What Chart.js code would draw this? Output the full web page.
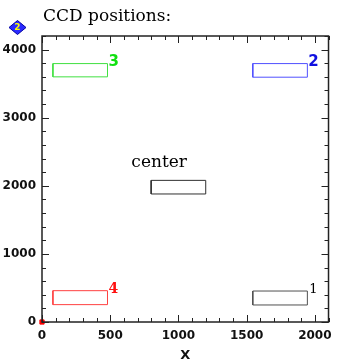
<!DOCTYPE html>
<html><head><meta charset="utf-8">
<script src="https://cdn.jsdelivr.net/npm/chart.js@4"></script>
<style>html,body{margin:0;padding:0;background:#fff;overflow:hidden}</style>
</head><body>
<canvas id="c" width="339" height="363"></canvas>
<script>
// ---- data ----
const ccdNames = ['1', '2', '3', '4', 'center'];
const ccdX1 = [1545, 1545, 80, 80, 800];
const ccdX2 = [1945, 1945, 480, 480, 1200];
const ccdY1 = [250, 3595, 3600, 255, 1880];
const ccdY2 = [455, 3795, 3795, 460, 2080];
const centerLabel = 'center';
const centerLabelX = 655;
const centerLabelY = 2283;
const originX = [0];
const originY = [0];
const xTickValues = [0, 500, 1000, 1500, 2000];
const yTickValues = [0, 1000, 2000, 3000, 4000];
const xMinorStep = 100;
const yMinorStep = 200;
const titleText = 'CCD positions:';
const xAxisTitle = 'X';

// ---- styles ----
const ccdColors = ['#505050', '#5050ff', '#40e040', '#ff4040', '#303030'];
const labelColors = ['#000000', '#1010e0', '#10e010', '#ff1010', '#000000'];
const labelFonts = ['13px "DejaVu Serif"', 'bold 15px "DejaVu Sans"', 'bold 15px "DejaVu Sans"', 'bold 14px "DejaVu Serif"', ''];
const labelDx = [2, 1, 1, 1, 0];

const datasets = ccdNames.map((n, i) => ({
  label: n,
  data: [
    {x: ccdX1[i], y: ccdY1[i]}, {x: ccdX2[i], y: ccdY1[i]},
    {x: ccdX2[i], y: ccdY2[i]}, {x: ccdX1[i], y: ccdY2[i]},
    {x: ccdX1[i], y: ccdY1[i]}
  ],
  showLine: true, borderColor: ccdColors[i], borderWidth: 1,
  pointRadius: 0, tension: 0, fill: false
}));
datasets.push({
  label: 'origin',
  data: originX.map((x, i) => ({x, y: originY[i]})),
  pointStyle: 'rect', pointRadius: 3, backgroundColor: '#ff0000',
  borderColor: '#ff0000', showLine: false, clip: false
});

const deco = {
  id: 'deco',
  afterDraw(chart) {
    const ctx = chart.ctx, a = chart.chartArea;
    const xs = chart.scales.x, ys = chart.scales.y;
    ctx.save();
    // frame
    ctx.strokeStyle = '#222'; ctx.lineWidth = 1.5;
    ctx.strokeRect(a.left, a.top, a.right - a.left, a.bottom - a.top);
    // inward ticks
    ctx.lineWidth = 1;
    ctx.beginPath();
    for (let v = 0; v <= xs.max; v += xMinorStep) {
      const p = Math.round(xs.getPixelForValue(v)) + 0.5;
      const len = (v % 500 === 0) ? 7 : 4;
      ctx.moveTo(p, a.bottom); ctx.lineTo(p, a.bottom - len);
      ctx.moveTo(p, a.top); ctx.lineTo(p, a.top + len);
    }
    for (let v = 0; v <= ys.max; v += yMinorStep) {
      const p = Math.round(ys.getPixelForValue(v)) + 0.5;
      const len = (v % 1000 === 0) ? 7 : 4;
      ctx.moveTo(a.left, p); ctx.lineTo(a.left + len, p);
      ctx.moveTo(a.right, p); ctx.lineTo(a.right - len, p);
    }
    ctx.stroke();
    // ccd labels
    ctx.textBaseline = 'alphabetic';
    ccdNames.forEach((n, i) => {
      if (!labelFonts[i]) return;
      ctx.font = labelFonts[i];
      ctx.fillStyle = labelColors[i];
      ctx.textAlign = 'left';
      ctx.fillText(n, xs.getPixelForValue(ccdX2[i]) + labelDx[i], ys.getPixelForValue(ccdY2[i]) + 2);
    });
    ctx.font = '17px "DejaVu Serif"';
    ctx.fillStyle = '#000';
    ctx.fillText(centerLabel, xs.getPixelForValue(centerLabelX), ys.getPixelForValue(centerLabelY));
    // title
    ctx.font = '17px "DejaVu Serif"';
    ctx.fillText(titleText, 43, 21);
    // icon
    ctx.beginPath();
    ctx.moveTo(17.5, 20.5); ctx.lineTo(26, 27.5); ctx.lineTo(17.5, 34.5); ctx.lineTo(9, 27.5); ctx.closePath();
    ctx.fillStyle = '#2a2aff'; ctx.fill();
    ctx.strokeStyle = '#0000a0'; ctx.lineWidth = 1; ctx.stroke();
    ctx.font = 'bold 9px "DejaVu Sans"'; ctx.fillStyle = '#ffff00';
    ctx.textAlign = 'center'; ctx.textBaseline = 'middle';
    ctx.fillText('2', 17.5, 28);
    ctx.restore();
  }
};

const tickFont = {family: 'DejaVu Sans', weight: 'bold', size: 12};

new Chart(document.getElementById('c'), {
  type: 'scatter',
  data: {datasets},
  options: {
    responsive: false, animation: false, devicePixelRatio: 1,
    layout: {padding: {top: 36, right: 9, left: 0, bottom: 0}},
    plugins: {legend: {display: false}, tooltip: {enabled: false}},
    scales: {
      x: {
        type: 'linear', min: 0, max: 2100,
        afterBuildTicks: s => { s.ticks = xTickValues.map(v => ({value: v})); },
        afterFit: s => { s.height = 41; },
        grid: {display: false, drawTicks: false}, border: {display: false},
        ticks: {color: '#111', font: tickFont, padding: 7, maxRotation: 0, callback: v => String(v)},
        title: {display: true, text: xAxisTitle, color: '#111', font: {family: 'DejaVu Sans', weight: 'bold', size: 13}, padding: {top: 1, bottom: 0}}
      },
      y: {
        type: 'linear', min: 0, max: 4200,
        afterBuildTicks: s => { s.ticks = yTickValues.map(v => ({value: v})); },
        afterFit: s => { s.width = 42; },
        grid: {display: false, drawTicks: false}, border: {display: false},
        ticks: {color: '#111', font: tickFont, padding: 6, callback: v => String(v)}
      }
    }
  },
  plugins: [deco]
});
</script>
</body></html>
